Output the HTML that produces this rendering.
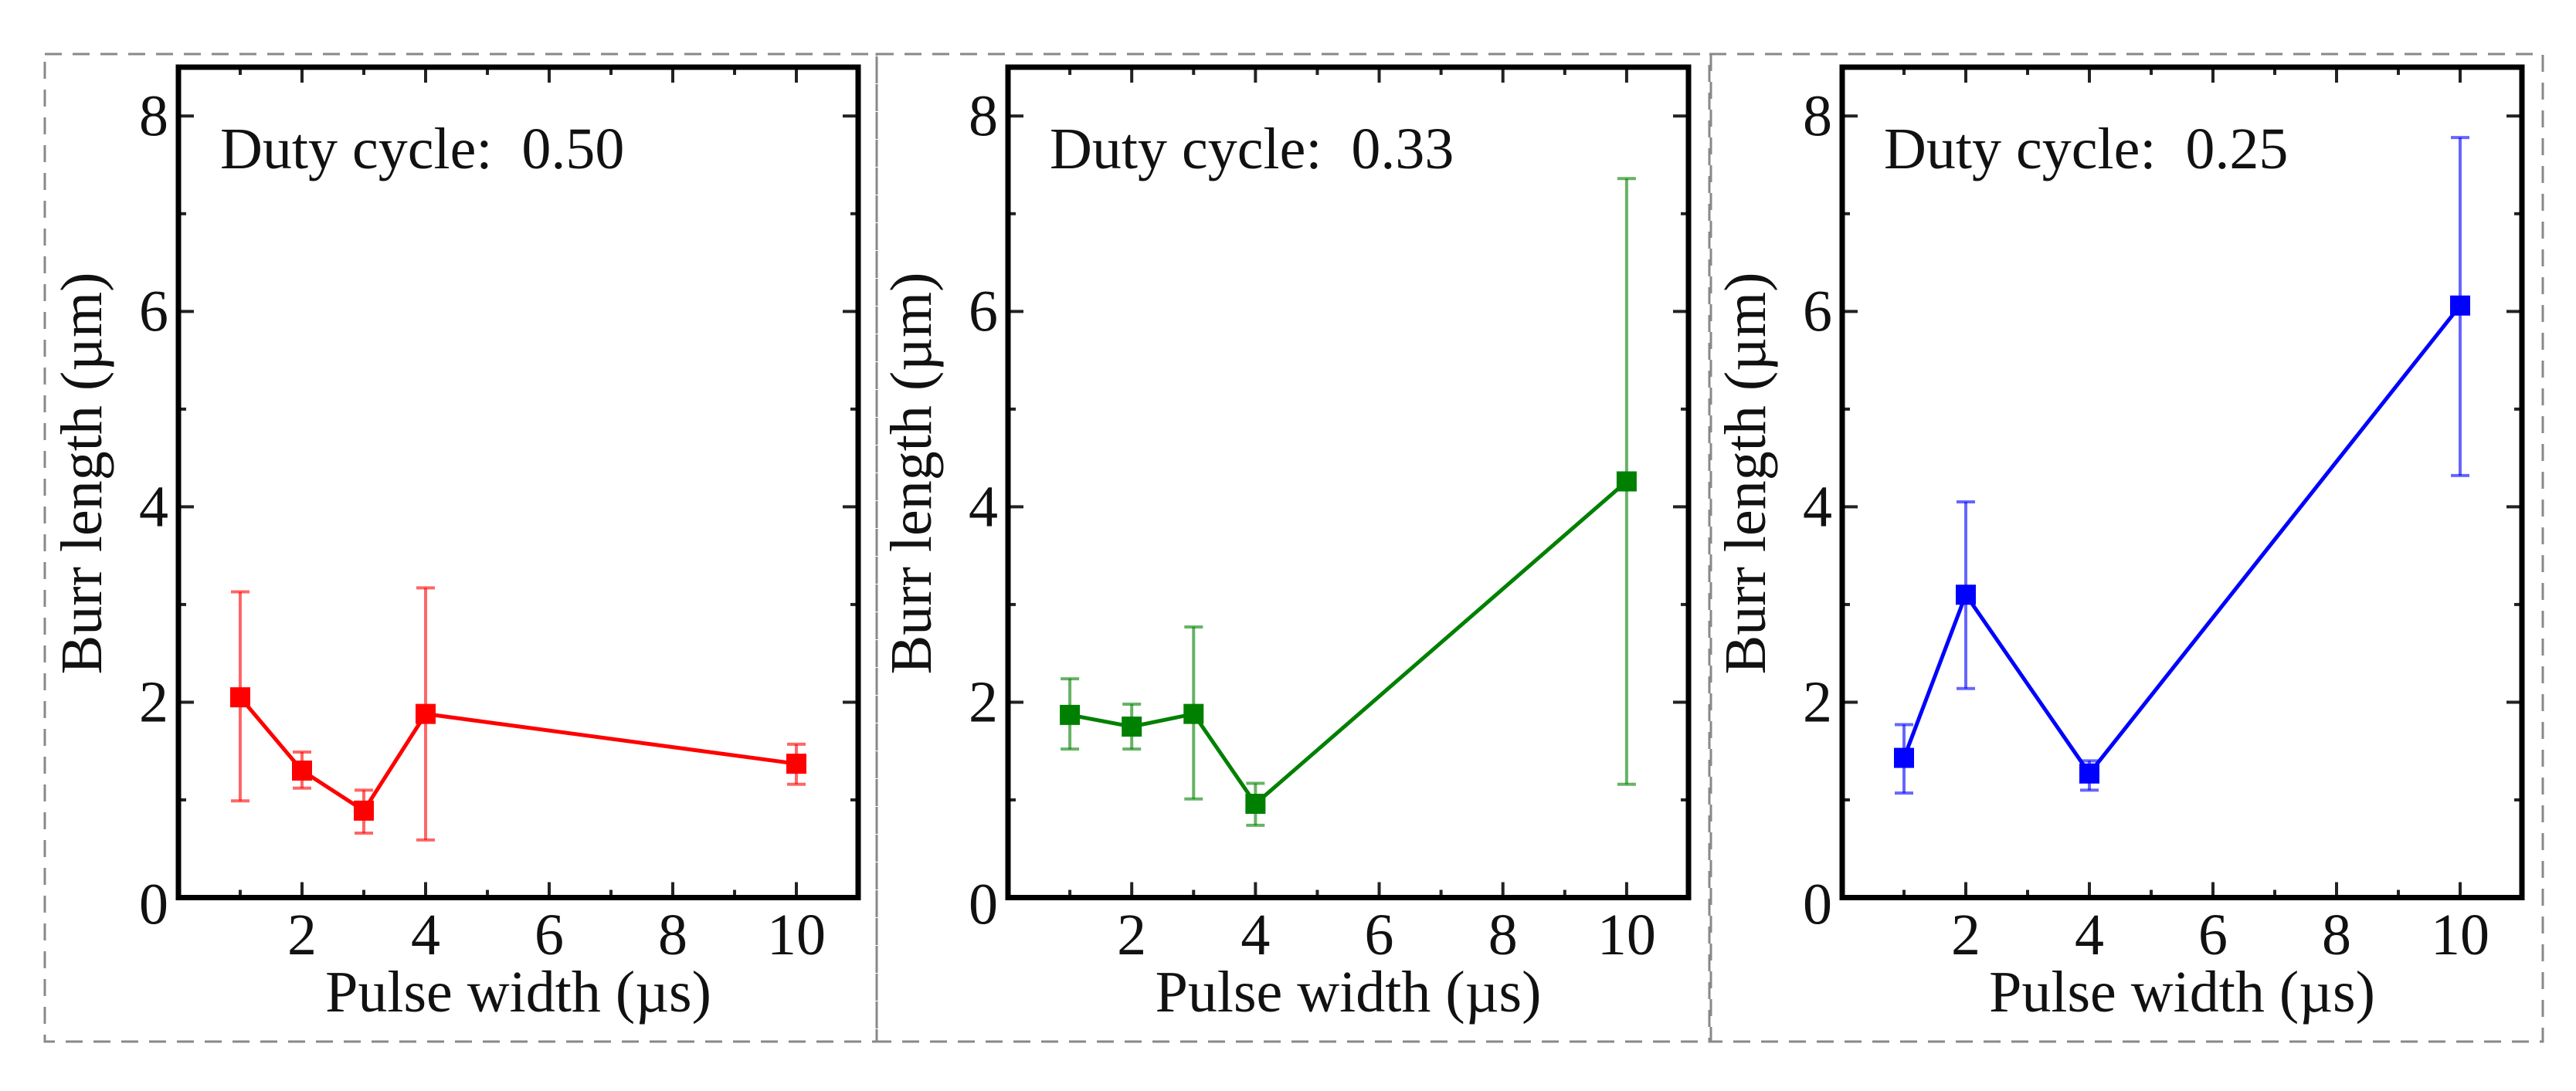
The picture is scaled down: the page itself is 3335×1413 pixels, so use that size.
<!DOCTYPE html>
<html><head><meta charset="utf-8"><style>
html,body{margin:0;padding:0;background:#fff}
svg{display:block}
text{font-family:"Liberation Serif","Noto Serif CJK SC","DejaVu Serif",serif;fill:#111;white-space:pre}
</style></head><body>
<svg id="fig" width="3335" height="1413" viewBox="0 0 3335 1413" xmlns="http://www.w3.org/2000/svg"></svg>
<script>
const xVals = [[1,2,3,4,10],[1,2,3,4,10],[1,2,4,10]];
const yRed = [2.05,1.30,0.89,1.88,1.37];
const errRedHi = [3.13,1.49,1.10,3.17,1.57];
const errRedLo = [0.99,1.12,0.66,0.59,1.16];
const yGreen = [1.87,1.75,1.88,0.96,4.26];
const errGreenHi = [2.24,1.98,2.77,1.17,7.36];
const errGreenLo = [1.52,1.52,1.01,0.74,1.16];
const yBlue = [1.43,3.10,1.27,6.06];
const errBlueHi = [1.77,4.05,1.40,7.78];
const errBlueLo = [1.07,2.14,1.10,4.32];
const xTicks = [2,4,6,8,10];
const yTicks = [0,2,4,6,8];
const dutyLabels = ["0.50","0.33","0.25"];

const NS="http://www.w3.org/2000/svg";
const svg=document.getElementById('fig');
const FF='Liberation Serif, Noto Serif CJK SC, DejaVu Serif, serif';
function mk(tag,attrs,parent){const e=document.createElementNS(NS,tag);for(const k in attrs)e.setAttribute(k,attrs[k]);(parent||svg).appendChild(e);return e;}

const boxes=[[58,1135],[1135,2215],[2213,3292]];
const frames=[[231,1111],[1305,2186],[2385,3265]];
const series=[[yRed,errRedHi,errRedLo,'#ff0000'],[yGreen,errGreenHi,errGreenLo,'#008000'],[yBlue,errBlueHi,errBlueLo,'#0000ff']];
const TOP=87,BOT=1162.5,XMAX=11,YMAX=8.5;

for(let p=0;p<3;p++){
  const g=mk('g',{});
  
  
  const [bl,br]=boxes[p];
  const box=mk('rect',{x:bl,y:70,width:br-bl,height:1279,fill:'none',stroke:'#888','stroke-width':3,'stroke-dasharray':'22 14'},g);
  
  
  const [L,R]=frames[p];
  const sx=v=>L+(R-L)*v/XMAX;
  const sy=v=>BOT-(BOT-TOP)*v/YMAX;
  const tk=mk('g',{stroke:'#222','stroke-width':4},g);
  
  
  for(let v=1;v<=10;v++){const len=v%2===0?20:10;const x=sx(v);
    mk('line',{x1:x,y1:BOT,x2:x,y2:BOT-len},tk);mk('line',{x1:x,y1:TOP,x2:x,y2:TOP+len},tk);}
  for(let v=1;v<=8;v++){const len=v%2===0?20:10;const y=sy(v);
    mk('line',{x1:L,y1:y,x2:L+len,y2:y},tk);mk('line',{x1:R,y1:y,x2:R-len,y2:y},tk);}
  xTicks.forEach(v=>{const t=mk('text',{x:sx(v),y:1236,'font-size':76,'font-family':FF,'text-anchor':'middle'},g);t.textContent=v;
    });
  yTicks.forEach(v=>{const t=mk('text',{x:L-13,y:sy(v)+(v===0?34:25),'font-size':76,'font-family':FF,'text-anchor':'end'},g);t.textContent=v;
    });
  const xt=mk('text',{x:(L+R)/2,y:1310,'font-size':76,'font-family':FF,'text-anchor':'middle'},g);xt.textContent='Pulse width (\u00b5s)';
  
  const yx=L-100;
  const yt=mk('text',{x:yx,y:613,'font-size':76,'font-family':FF,'text-anchor':'middle',transform:`rotate(-90 ${yx} 613)`},g);yt.textContent='Burr length (\u00b5m)';
  
  const dt=mk('text',{x:L+54,y:218,'font-size':76,'font-family':FF},g);dt.textContent='Duty cycle:\u00a0\u00a0'+dutyLabels[p];
  
  const [ys,hi,lo,col]=series[p];const xs=xVals[p];
  const eg=mk('g',{stroke:col,'stroke-opacity':0.6,'stroke-width':4},g);
  
  xs.forEach((xv,i)=>{const x=sx(xv);
    const l=mk('line',{x1:x,y1:sy(hi[i]),x2:x,y2:sy(lo[i])},eg);
    
    mk('line',{x1:x-12,y1:sy(hi[i]),x2:x+12,y2:sy(hi[i])},eg);
    mk('line',{x1:x-12,y1:sy(lo[i]),x2:x+12,y2:sy(lo[i])},eg);});
  const pl=mk('polyline',{points:xs.map((xv,i)=>sx(xv)+','+sy(ys[i])).join(' '),fill:'none',stroke:col,'stroke-width':5},g);
  
  xs.forEach((xv,i)=>{const m=mk('rect',{x:sx(xv)-13,y:sy(ys[i])-13,width:26,height:26,fill:col},g);
    });
  const fr=mk('rect',{x:L,y:TOP,width:R-L,height:BOT-TOP,fill:'none',stroke:'#000','stroke-width':7},g);
  
}
</script>
</body></html>
